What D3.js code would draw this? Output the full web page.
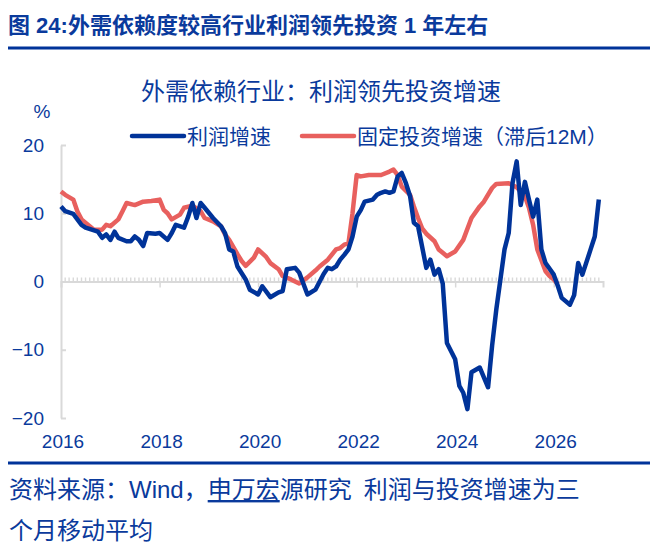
<!DOCTYPE html>
<html>
<head>
<meta charset="utf-8">
<script src="https://cdn.jsdelivr.net/npm/d3@7"></script>
<style>
  body { margin: 0; background: #fff; }
  svg { display: block; font-family: "Liberation Sans", "Noto Sans CJK SC", sans-serif; }
</style>
</head>
<body>
<div class="graph"></div>
<script>
// 利润增速 (3MMA), %
const profitDates = ['2016-01', '2016-02', '2016-04', '2016-06', '2016-07', '2016-10', '2016-11', '2016-12',
  '2017-01', '2017-02', '2017-03', '2017-05', '2017-06', '2017-07', '2017-08', '2017-09', '2017-10', '2017-12',
  '2018-01', '2018-03', '2018-04', '2018-05', '2018-07', '2018-08', '2018-09', '2018-10', '2018-11', '2018-12',
  '2019-02', '2019-04', '2019-05', '2019-06', '2019-07', '2019-08', '2019-10', '2019-11',
  '2020-01', '2020-02', '2020-04', '2020-06', '2020-07', '2020-08', '2020-10', '2020-11',
  '2021-01', '2021-03', '2021-05', '2021-06', '2021-07', '2021-08', '2021-09', '2021-10', '2021-11', '2021-12',
  '2022-01', '2022-02', '2022-03', '2022-05', '2022-06', '2022-07', '2022-08', '2022-09', '2022-10', '2022-11', '2022-12',
  '2023-01', '2023-02', '2023-03', '2023-04', '2023-06', '2023-07', '2023-08', '2023-09', '2023-10', '2023-11',
  '2024-01', '2024-02', '2024-03', '2024-04', '2024-05', '2024-07', '2024-09', '2024-10', '2024-11',
  '2025-01', '2025-02', '2025-03', '2025-04', '2025-05', '2025-06', '2025-07', '2025-08', '2025-09', '2025-10', '2025-11',
  '2026-01', '2026-02', '2026-03', '2026-05', '2026-06', '2026-07', '2026-08', '2026-10', '2026-11', '2026-12'];
const profitValues = [11.0, 10.3, 9.9, 8.3, 7.9, 7.3, 6.4, 6.9,
  6.1, 7.3, 6.4, 5.9, 5.9, 6.6, 6.1, 5.2, 7.1, 7.0,
  7.1, 6.1, 7.1, 8.3, 7.9, 9.5, 11.5, 9.3, 11.5, 10.8,
  9.3, 8.1, 7.1, 4.7, 4.4, 2.2, 0.3, -1.2,
  -1.9, -0.7, -2.3, -1.6, -1.4, 1.8, 2.0, 1.3,
  -1.9, -1.2, 1.1, 2.0, 1.8, 2.2, 3.2, 3.9, 4.7, 6.6,
  9.5, 10.5, 11.7, 12.0, 12.7, 13.0, 13.2, 13.0, 13.2, 15.4, 15.9,
  14.4, 12.5, 8.6, 8.1, 2.0, 3.2, 1.0, 1.8, -0.3, -9.0,
  -11.4, -15.3, -16.3, -18.7, -13.3, -12.6, -15.5, -9.4, -4.1,
  4.7, 7.1, 14.4, 17.6, 11.2, 14.6, 12.0, 9.5, 12.0, 4.7, 2.7,
  1.0, -0.7, -2.4, -3.4, -2.0, 2.7, 1.0, 4.7, 6.6, 12.0];

// 固定投资增速 (滞后12M), %
const investDates = ['2016-01', '2016-02', '2016-04', '2016-05', '2016-06', '2016-08', '2016-09', '2016-11', '2016-12',
  '2017-01', '2017-03', '2017-04', '2017-05', '2017-07', '2017-09', '2017-11',
  '2018-01', '2018-02', '2018-03', '2018-04', '2018-06', '2018-07', '2018-09', '2018-11', '2018-12',
  '2019-02', '2019-04', '2019-05', '2019-06', '2019-08', '2019-09', '2019-10', '2019-12',
  '2020-01', '2020-03', '2020-04', '2020-06', '2020-07', '2020-09', '2020-10', '2020-11',
  '2021-01', '2021-03', '2021-04', '2021-06', '2021-08', '2021-09', '2021-10', '2021-11', '2021-12',
  '2022-01', '2022-02', '2022-04', '2022-06', '2022-07', '2022-09', '2022-10', '2022-11', '2022-12',
  '2023-02', '2023-03', '2023-04', '2023-05', '2023-06', '2023-08', '2023-09', '2023-10', '2023-11',
  '2024-01', '2024-03', '2024-05', '2024-07', '2024-08', '2024-10', '2024-11',
  '2025-02', '2025-04', '2025-06', '2025-07', '2025-08', '2025-09', '2025-11', '2025-12',
  '2026-01', '2026-02'];
const investValues = [13.2, 12.7, 12.0, 10.3, 9.1, 8.1, 7.6, 7.6, 8.3,
  8.1, 9.1, 10.3, 11.5, 11.2, 11.7, 11.8,
  12.0, 10.5, 10.0, 9.1, 9.8, 10.8, 11.1, 10.3, 9.3,
  8.8, 8.1, 6.9, 6.1, 4.0, 3.0, 2.3, 3.5,
  4.7, 3.6, 2.7, 1.8, 0.8, 0.3, 0.0, -0.3,
  0.6, 1.6, 2.2, 3.2, 4.7, 4.9, 5.4, 5.6, 10.0,
  15.6, 15.4, 15.6, 15.6, 15.6, 16.1, 16.4, 15.6, 13.9,
  12.7, 11.0, 9.3, 7.8, 7.0, 5.9, 4.7, 4.2, 3.7,
  4.4, 6.1, 9.3, 11.0, 11.7, 13.7, 14.3,
  14.4, 13.8, 12.5, 10.8, 8.3, 4.7, 1.5, 0.8,
  0.3, -0.4];

const yTicks = [-20, -10, 0, 10, 20];
const xTickYears = [2016, 2018, 2020, 2022, 2024, 2026];

const navy = '#0a3a9c';
const blue = '#003399';
const red = '#e8605e';
const grey = '#d9d9d9';

const parseMonth = d3.timeParse('%Y-%m');
const profit = profitDates.map((d, i) => ({ date: parseMonth(d), value: profitValues[i] }));
const invest = investDates.map((d, i) => ({ date: parseMonth(d), value: investValues[i] }));

const width = 656;
const height = 544;

const svg = d3.select('.graph').append('svg')
  .attr('width', width)
  .attr('height', height);

// header
svg.append('text')
  .attr('x', 8)
  .attr('y', 33)
  .attr('fill', navy)
  .attr('font-size', 22)
  .attr('font-weight', 'bold')
  .text('图 24:外需依赖度较高行业利润领先投资 1 年左右');

svg.append('line')
  .attr('x1', 8).attr('x2', 650)
  .attr('y1', 48).attr('y2', 48)
  .attr('stroke', blue)
  .attr('stroke-width', 3);

svg.append('text')
  .attr('x', 321)
  .attr('y', 100)
  .attr('text-anchor', 'middle')
  .attr('fill', navy)
  .attr('font-size', 24)
  .text('外需依赖行业：利润领先投资增速');

// legend
const legendItems = [
  { label: '利润增速', color: blue, x: 132 },
  { label: '固定投资增速（滞后12M）', color: red, x: 302 },
];
const legend = svg.append('g').classed('legend', true)
  .selectAll('g')
  .data(legendItems)
  .enter()
  .append('g')
  .attr('transform', (d) => `translate(${d.x},136)`);
legend.append('line')
  .attr('x1', 0).attr('x2', 52)
  .attr('stroke', (d) => d.color)
  .attr('stroke-width', 4.5)
  .attr('stroke-linecap', 'round');
legend.append('text')
  .attr('x', 55)
  .attr('dy', '0.36em')
  .attr('fill', navy)
  .attr('font-size', 21)
  .text((d) => d.label);

svg.append('text')
  .attr('x', 42)
  .attr('y', 118)
  .attr('text-anchor', 'middle')
  .attr('fill', navy)
  .attr('font-size', 19)
  .text('%');

// scales
const x = d3.scaleTime()
  .domain([new Date(2016, 0, 1), new Date(2027, 0, 1)])
  .range([61, 603]);
const y = d3.scaleLinear()
  .domain([-20, 20])
  .range([418, 145]);

// y axis
const yAxis = svg.append('g')
  .attr('transform', 'translate(61,0)')
  .call(d3.axisLeft(y).tickValues(yTicks).tickSize(0).tickPadding(17));
yAxis.select('.domain').attr('stroke', grey).attr('stroke-width', 2);
yAxis.selectAll('.tick text')
  .attr('fill', navy)
  .attr('font-size', 19)
  .attr('font-family', null);
yAxis.selectAll('.tick')
  .append('line')
  .attr('x1', 0).attr('x2', 5)
  .attr('stroke', grey)
  .attr('stroke-width', 2);

// zero axis with monthly minor ticks
const zeroY = y(0);
const months = d3.timeMonth.range(new Date(2016, 1, 1), new Date(2027, 0, 1));
svg.append('g')
  .selectAll('line')
  .data(months)
  .enter()
  .append('line')
  .attr('x1', (d) => x(d)).attr('x2', (d) => x(d))
  .attr('y1', zeroY - 4).attr('y2', zeroY)
  .attr('stroke', grey)
  .attr('stroke-width', 1.4);
const xAxis = svg.append('g')
  .attr('transform', `translate(0,${zeroY})`)
  .call(d3.axisBottom(x)
    .tickValues(xTickYears.map((yr) => new Date(yr, 0, 1)))
    .tickSize(6)
    .tickFormat(''));
xAxis.select('.domain').attr('stroke', grey).attr('stroke-width', 2);
xAxis.selectAll('.tick line').attr('stroke', grey).attr('stroke-width', 1.5);

svg.append('g')
  .selectAll('text')
  .data(xTickYears)
  .enter()
  .append('text')
  .attr('x', (d) => x(new Date(d, 0, 1)) + 2)
  .attr('y', 441)
  .attr('dy', '0.36em')
  .attr('text-anchor', 'middle')
  .attr('fill', navy)
  .attr('font-size', 19)
  .text((d) => d);

// series
const line = d3.line()
  .x((d) => x(d.date))
  .y((d) => y(d.value))
  .curve(d3.curveLinear);

svg.append('path')
  .datum(invest)
  .attr('d', line)
  .attr('fill', 'none')
  .attr('stroke', red)
  .attr('stroke-width', 4.5)
  .attr('stroke-linejoin', 'round');

svg.append('path')
  .datum(profit)
  .attr('d', line)
  .attr('fill', 'none')
  .attr('stroke', blue)
  .attr('stroke-width', 4.5)
  .attr('stroke-linejoin', 'round');

// footer
svg.append('line')
  .attr('x1', 8).attr('x2', 650)
  .attr('y1', 463).attr('y2', 463)
  .attr('stroke', blue)
  .attr('stroke-width', 3);

const source = svg.append('text')
  .attr('x', 9)
  .attr('y', 498)
  .attr('fill', navy)
  .attr('font-size', 24);
source.append('tspan').text('资料来源：Wind，');
source.append('tspan').attr('text-decoration', 'underline').text('申万宏');
source.append('tspan').text('源研究');
source.append('tspan').attr('dx', 12).text('利润与投资增速为三');

svg.append('text')
  .attr('x', 9)
  .attr('y', 539)
  .attr('fill', navy)
  .attr('font-size', 24)
  .text('个月移动平均');
</script>
</body>
</html>
